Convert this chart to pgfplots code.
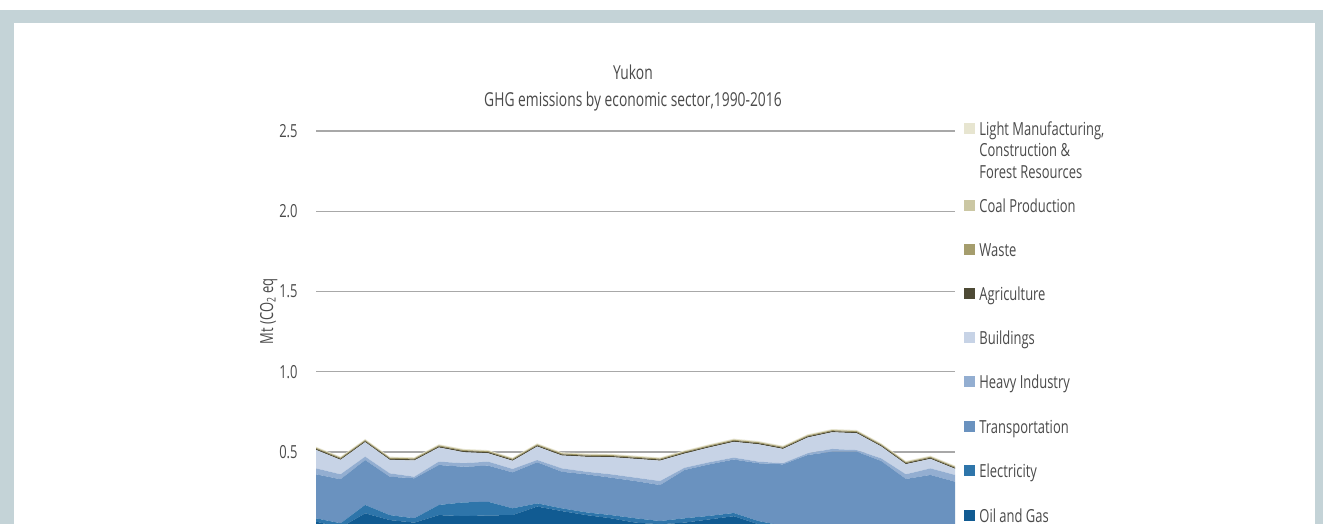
\documentclass[border=0pt]{standalone}
\usepackage{fontspec}
\setmainfont[FakeStretch=0.72]{Open Sans}
\usepackage{pgfplots}
\usepackage{pgfplotstable}
\pgfplotsset{compat=1.18}

\definecolor{framec}{HTML}{C4D3D7}
\definecolor{txt}{HTML}{4A4A4A}
\definecolor{gridc}{HTML}{A8A8A8}
\definecolor{cog}{HTML}{115B92}
\definecolor{cel}{HTML}{2E75AA}
\definecolor{ctr}{HTML}{6A92BF}
\definecolor{chi}{HTML}{93AED1}
\definecolor{cbu}{HTML}{C7D3E6}
\definecolor{cag}{HTML}{4D4A35}
\definecolor{cwa}{HTML}{A59D6D}
\definecolor{cco}{HTML}{CBC7A3}
\definecolor{clm}{HTML}{E7E5D0}

\pgfplotstableread{
year og    el    tr    hi    bu    ag    wa    co    lm
1990 0.066 0.021 0.274 0.037 0.115 0.007 0.006 0.001 0.006
1991 0.030 0.026 0.274 0.031 0.090 0.007 0.006 0.001 0.006
1992 0.118 0.052 0.280 0.021 0.090 0.007 0.006 0.001 0.006
1993 0.076 0.031 0.239 0.021 0.084 0.007 0.006 0.001 0.006
1994 0.060 0.027 0.249 0.010 0.101 0.007 0.006 0.001 0.006
1995 0.107 0.063 0.249 0.021 0.088 0.007 0.006 0.001 0.006
1996 0.100 0.086 0.222 0.022 0.069 0.007 0.006 0.001 0.006
1997 0.105 0.085 0.225 0.025 0.052 0.007 0.006 0.001 0.006
1998 0.107 0.042 0.224 0.021 0.051 0.007 0.006 0.001 0.006
1999 0.160 0.020 0.256 0.014 0.084 0.007 0.006 0.001 0.006
2000 0.132 0.017 0.228 0.021 0.080 0.007 0.006 0.001 0.006
2001 0.107 0.017 0.237 0.016 0.093 0.007 0.006 0.001 0.006
2002 0.087 0.020 0.233 0.021 0.107 0.007 0.006 0.001 0.006
2003 0.060 0.027 0.232 0.021 0.117 0.007 0.006 0.001 0.006
2004 0.050 0.020 0.224 0.025 0.127 0.007 0.006 0.001 0.006
2005 0.060 0.027 0.301 0.014 0.088 0.007 0.006 0.001 0.006
2006 0.080 0.022 0.321 0.013 0.092 0.007 0.006 0.001 0.006
2007 0.100 0.020 0.333 0.012 0.098 0.007 0.006 0.001 0.006
2008 0.050 0.020 0.360 0.010 0.108 0.007 0.006 0.001 0.006
2009 0.030 0.010 0.383 0.007 0.089 0.007 0.006 0.001 0.006
2010 0.030 0.010 0.441 0.011 0.098 0.007 0.006 0.001 0.006
2011 0.030 0.010 0.462 0.017 0.104 0.007 0.006 0.001 0.006
2012 0.030 0.010 0.462 0.010 0.105 0.007 0.006 0.001 0.006
2013 0.030 0.010 0.404 0.016 0.074 0.007 0.006 0.001 0.006
2014 0.030 0.010 0.292 0.029 0.063 0.007 0.006 0.001 0.006
2015 0.030 0.010 0.317 0.041 0.059 0.007 0.006 0.001 0.006
2016 0.030 0.010 0.275 0.042 0.038 0.007 0.006 0.001 0.006
}\ghg

\begin{document}
\begin{tikzpicture}[x=0.5pt,y=0.5pt,
  lab/.style={font=\fontsize{9}{10.75}\selectfont, text=txt, inner sep=0pt, anchor=base west}]
% frame
\fill[framec] (0,0) rectangle (1323,514);
\fill[white] (14,-20) rectangle (1315,501);

\begin{axis}[
  at={(158pt,-4.125pt)}, anchor=south west,
  width=319.5pt, height=200.625pt, scale only axis,
  xmin=1990, xmax=2016, ymin=0, ymax=2.5,
  axis x line=none,
  axis y line=left,
  y axis line style={draw=none},
  ytick={0.5,1.0,1.5,2.0,2.5},
  major tick length=0pt,
  ymajorgrids,
  grid style={gridc, line width=0.65pt},
  yticklabel style={font=\fontsize{9}{10.75}\selectfont, text=txt, inner sep=0pt, anchor=east, xshift=-9pt,
     /pgf/number format/fixed, /pgf/number format/fixed zerofill, /pgf/number format/precision=1,
     /pgf/number format/assume math mode=true},
  stack plots=y,
  title={Yukon\\GHG emissions by economic sector,1990-2016},
  title style={at={(axis description cs:0.496,1.077)}, anchor=center, align=center,
     font=\fontsize{9.6}{13.5}\selectfont, text=txt},
  ylabel={Mt (CO\textsubscript{2} eq},
  every axis y label/.style={at={(axis description cs:-0.074,0.551)}, rotate=90, anchor=center,
     font=\fontsize{9}{10.75}\selectfont, text=txt},
  clip=false,
]
\addplot[fill=cog, draw=none] table[x=year,y=og] {\ghg} \closedcycle;
\addplot[fill=cel, draw=none] table[x=year,y=el] {\ghg} \closedcycle;
\addplot[fill=ctr, draw=none] table[x=year,y=tr] {\ghg} \closedcycle;
\addplot[fill=chi, draw=none] table[x=year,y=hi] {\ghg} \closedcycle;
\addplot[fill=cbu, draw=none] table[x=year,y=bu] {\ghg} \closedcycle;
\addplot[fill=cag, draw=none] table[x=year,y=ag] {\ghg} \closedcycle;
\addplot[fill=cwa, draw=none] table[x=year,y=wa] {\ghg} \closedcycle;
\addplot[fill=cco, draw=none] table[x=year,y=co] {\ghg} \closedcycle;
\addplot[fill=clm, draw=none] table[x=year,y=lm] {\ghg} \closedcycle;
\end{axis}

% legend (pixel coordinates, y measured from bottom of 524 px image)
\foreach \c/\yc in {clm/129,cco/206,cwa/250,cag/294,cbu/338,chi/382,ctr/427,cel/471,cog/516}{
  \fill[\c] (964,{524-\yc-5.5}) rectangle (975,{524-\yc+5.5});
}
\node[lab] at (979,{524-135.5}) {Light Manufacturing,};
\node[lab] at (979,{524-157}) {Construction \&};
\node[lab] at (979,{524-178.5}) {Forest Resources};
\node[lab] at (979,{524-212.5}) {Coal Production};
\node[lab] at (979,{524-256.5}) {Waste};
\node[lab] at (979,{524-300.5}) {Agriculture};
\node[lab] at (979,{524-344.5}) {Buildings};
\node[lab] at (979,{524-388.5}) {Heavy Industry};
\node[lab] at (979,{524-433.5}) {Transportation};
\node[lab] at (979,{524-477.5}) {Electricity};
\node[lab] at (979,{524-522.5}) {Oil and Gas};

\pgfresetboundingbox
\useasboundingbox (0,0) rectangle (1323,524);
\end{tikzpicture}
\end{document}
